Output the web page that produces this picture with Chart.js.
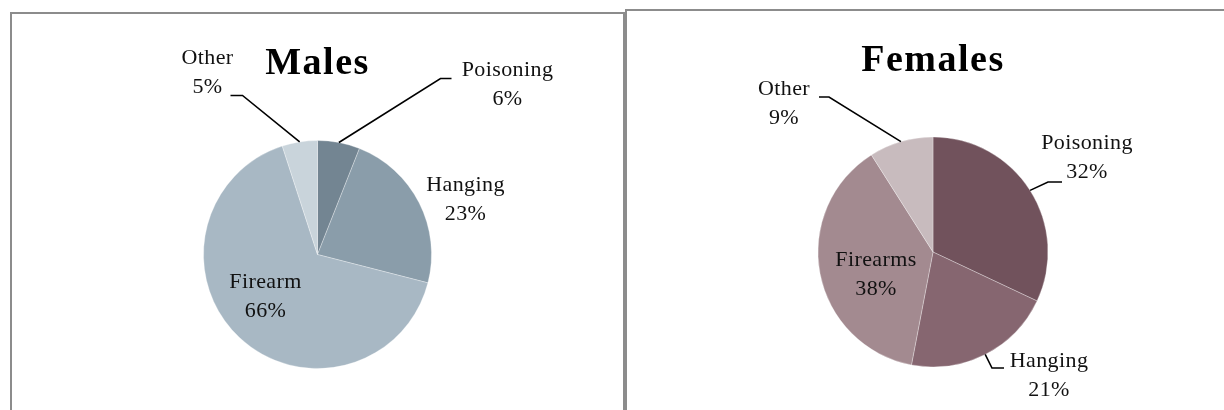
<!DOCTYPE html>
<html>
<head>
<meta charset="utf-8">
<script src="https://cdn.jsdelivr.net/npm/chart.js@4.4.1/dist/chart.umd.min.js"></script>
<style>
  html, body {
    margin: 0;
    padding: 0;
    background: #ffffff;
    width: 1224px;
    height: 410px;
    overflow: hidden;
  }
  .panel {
    position: absolute;
    border: 2px solid #8c8c8c;
    border-bottom: none;
    background: #ffffff;
  }
  #malePanel {
    left: 10px;
    top: 12px;
    width: 611px;
    height: 400px;
  }
  #femalePanel {
    left: 625px;
    top: 9px;
    width: 600px;
    height: 403px;
  }
  canvas {
    display: block;
  }
</style>
</head>
<body>
<div class="panel" id="malePanel"><canvas id="maleChart" width="611" height="396"></canvas></div>
<div class="panel" id="femalePanel"><canvas id="femaleChart" width="597" height="399"></canvas></div>
<script>
// 남성 데이터
const MALE_CATEGORIES = ["Poisoning", "Hanging", "Firearm", "Other"];
const MALE_VALUES = [6, 23, 66, 5];

// 여성 데이터
const FEMALE_CATEGORIES = ["Poisoning", "Hanging", "Firearms", "Other"];
const FEMALE_VALUES = [32, 21, 38, 9];

// 색상
const MALE_COLORS = ["#738592", "#8a9daa", "#a8b8c4", "#c9d4db"];
const FEMALE_COLORS = ["#71525c", "#866670", "#a38a90", "#c8bbbe"];

const SERIF = '"Liberation Serif", "Times New Roman", serif';

// 라벨 위치 (파이 중심 기준 오프셋) 와 지시선 꺾임점
const MALE_LAYOUT = {
  radius: 114,
  padding: { left: 150, right: 150, top: 110, bottom: 25 },
  labels: [[190, -170], [148, -55], [-52, 42], [-110, -182]],
  leaders: { 0: [[123, -176], [134, -176]], 3: [[-75, -159], [-87, -159]] },
};
const FEMALE_LAYOUT = {
  radius: 115,
  padding: { left: 160, right: 145, top: 110, bottom: 27 },
  labels: [[154, -94], [116, 124], [-57, 23], [-149, -148]],
  leaders: {
    0: [[115, -70], [129, -70]],
    1: [[59, 116], [71, 116]],
    3: [[-104, -155], [-114, -155]],
  },
};

// 제목, 라벨, 지시선을 그리는 플러그인
const pieLabelPlugin = {
  id: "pieLabels",
  afterDraw: (chart, args, opts) => {
    const ctx = chart.ctx;
    const meta = chart.getDatasetMeta(0);
    const data = chart.data;
    const layout = opts.layout;
    if (!meta.data.length) return;
    const cx = meta.data[0].x;
    const cy = meta.data[0].y;

    ctx.save();

    // 제목
    ctx.fillStyle = "#000000";
    ctx.font = "bold 38px " + SERIF;
    ctx.textAlign = "center";
    ctx.textBaseline = "alphabetic";
    ctx.letterSpacing = "1.5px";
    ctx.fillText(opts.title, cx, cy - 181);

    // 지시선
    ctx.strokeStyle = "#000000";
    ctx.lineWidth = 1.6;
    Object.keys(layout.leaders).forEach((key) => {
      const arc = meta.data[key];
      const mid = (arc.startAngle + arc.endAngle) / 2;
      const sx = arc.x + Math.cos(mid) * arc.outerRadius;
      const sy = arc.y + Math.sin(mid) * arc.outerRadius;
      const pts = layout.leaders[key];
      ctx.beginPath();
      ctx.moveTo(sx, sy);
      pts.forEach((p) => ctx.lineTo(cx + p[0], cy + p[1]));
      ctx.stroke();
    });

    // 라벨
    ctx.fillStyle = "#111111";
    ctx.font = "22px " + SERIF;
    ctx.letterSpacing = "0.4px";
    ctx.textBaseline = "middle";
    data.labels.forEach((label, i) => {
      const pos = layout.labels[i];
      const x = cx + pos[0];
      const y = cy + pos[1];
      ctx.fillText(label, x, y - 14.5);
      ctx.fillText(data.datasets[0].data[i] + "%", x, y + 14.5);
    });

    ctx.restore();
  },
};

// 파이 차트를 생성하는 함수
const createPie = (canvasId, title, categories, values, colors, layout) => {
  const ctx = document.getElementById(canvasId).getContext("2d");
  return new Chart(ctx, {
    type: "pie",
    data: {
      labels: categories,
      datasets: [
        {
          data: values,
          backgroundColor: colors,
          borderColor: "rgba(255, 255, 255, 0.3)",
          borderWidth: 1,
        },
      ],
    },
    options: {
      responsive: false,
      animation: false,
      radius: layout.radius,
      layout: { padding: layout.padding },
      plugins: {
        legend: { display: false },
        tooltip: { enabled: true },
        pieLabels: { title: title, layout: layout },
      },
    },
    plugins: [pieLabelPlugin],
  });
};

createPie("maleChart", "Males", MALE_CATEGORIES, MALE_VALUES, MALE_COLORS, MALE_LAYOUT);
createPie("femaleChart", "Females", FEMALE_CATEGORIES, FEMALE_VALUES, FEMALE_COLORS, FEMALE_LAYOUT);
</script>
</body>
</html>
